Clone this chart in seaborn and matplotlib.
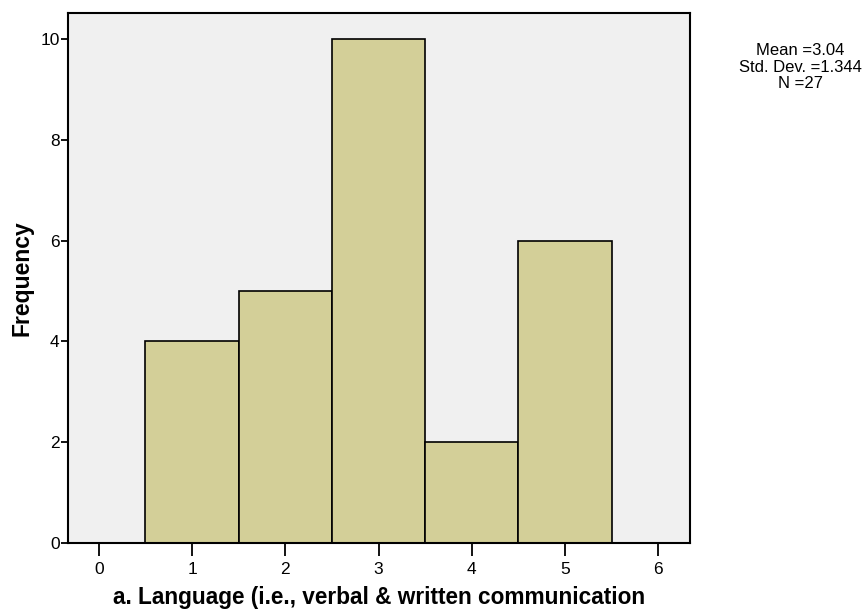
import numpy as np
import pandas as pd
import matplotlib
matplotlib.use("Agg")
import matplotlib.pyplot as plt
import seaborn as sns

# values
scores = [1, 2, 3, 4, 5]
counts = [4, 5, 10, 2, 6]
x_ticks = [0, 1, 2, 3, 4, 5, 6]
y_ticks = [0, 2, 4, 6, 8, 10]
stats_lines = ["Mean =3.04", "Std. Dev. =1.344", "N =27"]
x_title = "a. Language (i.e., verbal & written communication"
y_title = "Frequency"

sns.set_style("white")
plt.rcParams['font.family'] = ['Liberation Sans', 'DejaVu Sans']

df = pd.DataFrame({"score": scores, "count": counts})

fig = plt.figure(figsize=(8.64, 6.12), dpi=100)
ax = fig.add_axes([0.0787, 0.1127, 0.7199, 0.8661])
ax.set_facecolor("#F0F0F0")

sns.histplot(data=df, x="score", weights="count", discrete=True, ax=ax,
             color="#D3CF98", alpha=1, edgecolor="black", linewidth=1.2)

ax.set_xlim(-0.33, 6.34)
ax.set_ylim(0, 10.52)
ax.set_xticks(x_ticks)
ax.set_yticks(y_ticks)
ax.tick_params(axis="both", direction="out", width=1.3, color="black",
               labelsize=12.5, labelcolor="black", left=True, bottom=True)
ax.tick_params(axis="x", length=9, pad=5)
ax.tick_params(axis="y", length=5, pad=1)
for s in ax.spines.values():
    s.set_color("black")
    s.set_linewidth(1.5)

ax.set_xlabel(x_title, fontsize=16.3, fontweight="bold", labelpad=6, color="black")
ax.set_ylabel(y_title, fontsize=16.5, fontweight="bold", labelpad=5, color="black")

fig.text(0.926, 0.8905, "\n".join(stats_lines), ha="center", va="center",
         fontsize=12, linespacing=1.12, color="black")

fig.savefig("out.png", dpi=100)
